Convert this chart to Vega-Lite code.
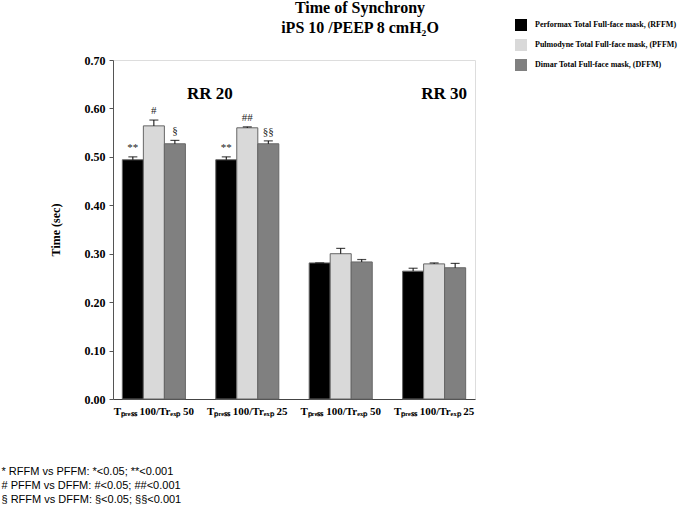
{
  "$schema": "https://vega.github.io/schema/vega-lite/v6.json",
  "autosize": {"type": "none"},
  "padding": {"left": 113, "top": 60, "right": 210, "bottom": 109},
  "width": 362,
  "height": 339,
  "background": "white",
  "title": {
    "text": ["Time of Synchrony", "iPS 10 /PEEP 8 cmH₂O"],
    "font": "Liberation Serif",
    "fontSize": 16,
    "fontWeight": "bold",
    "lineHeight": 20,
    "anchor": "middle",
    "frame": "group",
    "dx": 66,
    "offset": -17,
    "color": "#000"
  },
  "datasets": {
    "bars": [
      {"cond": "A", "series": "Performax Total Full-face mask, (RFFM)", "value": 0.494, "err": 0.500, "sig": "**"},
      {"cond": "A", "series": "Pulmodyne Total Full-face mask, (PFFM)", "value": 0.564, "err": 0.576, "sig": "#"},
      {"cond": "A", "series": "Dimar Total Full-face mask, (DFFM)", "value": 0.527, "err": 0.534, "sig": "§"},
      {"cond": "B", "series": "Performax Total Full-face mask, (RFFM)", "value": 0.494, "err": 0.500, "sig": "**"},
      {"cond": "B", "series": "Pulmodyne Total Full-face mask, (PFFM)", "value": 0.560, "err": 0.562, "sig": "##"},
      {"cond": "B", "series": "Dimar Total Full-face mask, (DFFM)", "value": 0.527, "err": 0.533, "sig": "§§"},
      {"cond": "C", "series": "Performax Total Full-face mask, (RFFM)", "value": 0.281, "err": 0.281, "sig": ""},
      {"cond": "C", "series": "Pulmodyne Total Full-face mask, (PFFM)", "value": 0.300, "err": 0.311, "sig": ""},
      {"cond": "C", "series": "Dimar Total Full-face mask, (DFFM)", "value": 0.283, "err": 0.288, "sig": ""},
      {"cond": "D", "series": "Performax Total Full-face mask, (RFFM)", "value": 0.264, "err": 0.270, "sig": ""},
      {"cond": "D", "series": "Pulmodyne Total Full-face mask, (PFFM)", "value": 0.279, "err": 0.281, "sig": ""},
      {"cond": "D", "series": "Dimar Total Full-face mask, (DFFM)", "value": 0.271, "err": 0.280, "sig": ""}
    ]
  },
  "data": {"name": "bars"},
  "encoding": {
    "x": {
      "field": "cond",
      "type": "nominal",
      "sort": ["A", "B", "C", "D"],
      "scale": {"paddingInner": 0.325, "paddingOuter": 0.1},
      "axis": {
        "labelAngle": 0,
        "ticks": false,
        "labelExpr": "datum.value == 'A' || datum.value == 'C' ? 'Tₚᵣₑₛₛ 100/Trₑₓₚ 50' : 'Tₚᵣₑₛₛ 100/Trₑₓₚ 25'",
        "labelFont": "Liberation Serif",
        "labelFontWeight": "bold",
        "labelFontSize": 11,
        "labelColor": "#000",
        "labelPadding": 6,
        "domainColor": "#444",
        "title": ["* RFFM vs PFFM: *<0.05; **<0.001", "# PFFM vs DFFM: #<0.05; ##<0.001", "§ RFFM vs DFFM: §<0.05; §§<0.001"],
        "titleFont": "Liberation Sans",
        "titleFontSize": 11,
        "titleFontWeight": "normal",
        "titleColor": "#000",
        "titleAnchor": "start",
        "titleAlign": "left",
        "titleBaseline": "top",
        "titleX": -112,
        "titleY": 66,
        "titleLineHeight": 14
      }
    },
    "xOffset": {
      "field": "series",
      "type": "nominal",
      "sort": ["Performax Total Full-face mask, (RFFM)", "Pulmodyne Total Full-face mask, (PFFM)", "Dimar Total Full-face mask, (DFFM)"],
      "scale": {"paddingInner": 0, "paddingOuter": 0}
    }
  },
  "layer": [
    {
      "mark": {"type": "bar", "stroke": "#666", "strokeWidth": 1},
      "encoding": {
        "y": {
          "field": "value",
          "type": "quantitative",
          "scale": {"domain": [0, 0.7]},
          "axis": {
            "values": [0, 0.1, 0.2, 0.3, 0.4, 0.5, 0.6, 0.7],
            "format": ".2f",
            "grid": false,
            "tickSize": 4,
            "tickColor": "#555",
            "domainColor": "#555",
            "labelFont": "Liberation Serif",
            "labelFontWeight": "bold",
            "labelFontSize": 12,
            "labelColor": "#000",
            "labelPadding": 4,
            "title": "Time (sec)",
            "titleFont": "Liberation Serif",
            "titleFontWeight": "bold",
            "titleFontSize": 12,
            "titleColor": "#000",
            "titlePadding": 22
          }
        },
        "color": {
          "field": "series",
          "type": "nominal",
          "sort": ["Performax Total Full-face mask, (RFFM)", "Pulmodyne Total Full-face mask, (PFFM)", "Dimar Total Full-face mask, (DFFM)"],
          "scale": {"range": ["#000000", "#d9d9d9", "#808080"]},
          "legend": {
            "title": null,
            "orient": "none",
            "legendX": 402,
            "legendY": -41,
            "symbolType": "square",
            "symbolSize": 144,
            "symbolStrokeWidth": 0,
            "symbolOpacity": 1,
            "labelFont": "Liberation Serif",
            "labelFontWeight": "bold",
            "labelFontSize": 8,
            "labelColor": "#000",
            "labelOffset": 8,
            "rowPadding": 8,
            "labelLimit": 300
          }
        }
      }
    },
    {
      "mark": {"type": "rule", "color": "#000", "strokeWidth": 1},
      "encoding": {
        "y": {"field": "value", "type": "quantitative"},
        "y2": {"field": "err"}
      }
    },
    {
      "mark": {"type": "tick", "color": "#000", "size": 9, "thickness": 1.2, "orient": "horizontal"},
      "encoding": {
        "y": {"field": "err", "type": "quantitative"}
      }
    },
    {
      "mark": {"type": "text", "font": "Liberation Serif", "fontSize": 11, "fill": "#222", "baseline": "bottom", "dy": -4},
      "encoding": {
        "y": {"field": "err", "type": "quantitative"},
        "text": {"field": "sig"}
      }
    },
    {
      "data": {"values": [{"cond": "A", "label": "RR 20", "y": 0.63}]},
      "mark": {"type": "text", "font": "Liberation Serif", "fontSize": 17, "fontWeight": "bold", "fill": "#000", "dx": 56},
      "encoding": {
        "x": {"field": "cond", "type": "nominal"},
        "xOffset": null,
        "y": {"field": "y", "type": "quantitative"},
        "text": {"field": "label"}
      }
    },
    {
      "data": {"values": [{"cond": "D", "label": "RR 30", "y": 0.63}]},
      "mark": {"type": "text", "font": "Liberation Serif", "fontSize": 17, "fontWeight": "bold", "fill": "#000", "dx": 10},
      "encoding": {
        "x": {"field": "cond", "type": "nominal"},
        "xOffset": null,
        "y": {"field": "y", "type": "quantitative"},
        "text": {"field": "label"}
      }
    }
  ]
}
